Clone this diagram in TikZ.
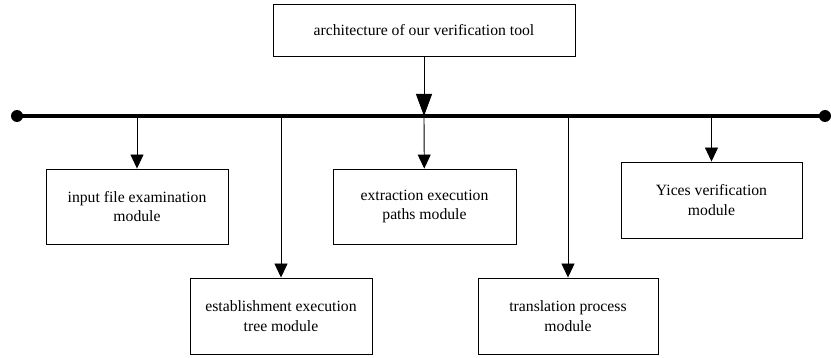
\documentclass[tikz,border=0pt]{standalone}
\usepackage{fontspec}
\setmainfont{Liberation Serif}
\usetikzlibrary{arrows.meta}

\begin{document}
\begin{tikzpicture}[x = 1pt, y = -1pt, line width = 0.9pt,
                      module/.style = {rectangle, draw, align = center, inner sep = 2pt,
                                       font = \fontsize{15.7}{19.5}\selectfont},
                      branch/.style = {-{Triangle[length = 14pt, width = 13pt]}},
                      bus/.style = {line width = 4pt},
                      dot/.style = {circle, fill = black, inner sep = 0pt, minimum size = 12pt}]
    \useasboundingbox (0, 0) rectangle (831, 358);

    \node [module, minimum width = 302pt, minimum height = 52pt] (top) at (424, 30){architecture of our verification tool};
    \node [module, minimum width = 182pt, minimum height = 75pt] (input) at (137, 206.5){input file examination\\module};
    \node [module, minimum width = 182pt, minimum height = 76pt] (tree) at (281, 316){establishment execution\\tree module};
    \node [module, minimum width = 183pt, minimum height = 75pt] (paths) at (424.5, 206.5){extraction execution\\paths module};
    \node [module, minimum width = 180pt, minimum height = 76pt] (trans) at (568, 316){translation process\\module};
    \node [module, minimum width = 181pt, minimum height = 76pt] (yices) at (711.5, 200){Yices verification\\module};

    \node [dot] (busL) at (17, 116){};
    \node [dot] (busR) at (825, 116){};
    \coordinate (b0) at (424, 116);
    \coordinate (b1) at (137, 116);
    \coordinate (b2) at (281, 116);
    \coordinate (b3) at (424, 116);
    \coordinate (b4) at (568, 116);
    \coordinate (b5) at (711.5, 116);

    \draw [bus] (busL.center) -- (busR.center);
    \draw [-{Triangle[length = 22pt, width = 16pt]}] (top) -- (b0);
    \draw [branch] (b1) -- (input);
    \draw [branch] (b2) -- (tree);
    \draw [branch] (b3) -- (paths);
    \draw [branch] (b4) -- (trans);
    \draw [branch] (b5) -- (yices);
    \end{tikzpicture}
\end{document}
